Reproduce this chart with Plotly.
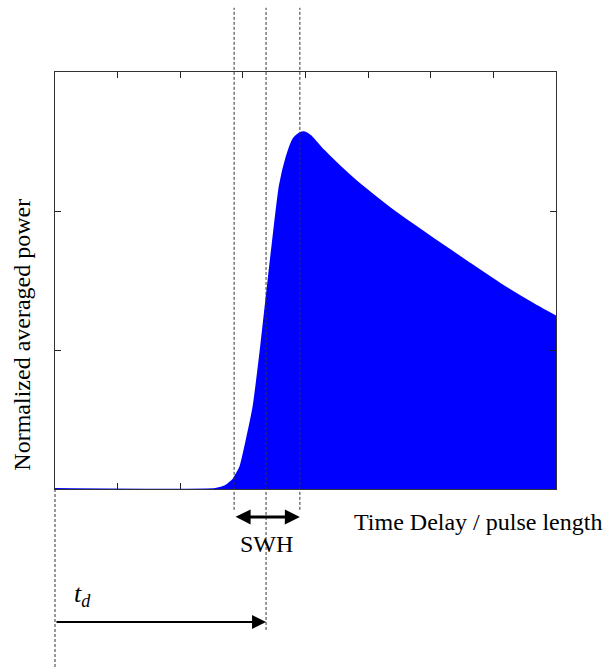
import plotly.graph_objects as go

# Normalized averaged return power versus time delay (in pulse lengths)
delay = [0.0, 2.56, 2.72, 2.85, 2.96, 3.06, 3.17, 3.28, 3.38, 3.46, 3.59,
         3.70, 3.81, 3.91, 3.99, 4.08, 4.18, 4.29, 4.55, 4.82, 5.08, 5.35,
         5.72, 6.04, 6.58, 7.11, 7.64, 8.0]
power = [0.0, 0.0, 0.02, 0.07, 0.16, 0.35, 0.59, 0.98, 1.38, 1.70, 2.18,
         2.39, 2.52, 2.56, 2.565, 2.54, 2.49, 2.435, 2.32, 2.21, 2.115, 2.02,
         1.90, 1.80, 1.635, 1.475, 1.33, 1.24]

# Leading edge: start, mid-point (tracking point) and end
edge_marks = [2.86, 3.37, 3.91]

x_ticks = [1, 2, 3, 4, 5, 6, 7]
y_ticks = [1, 2]

SERIF = "Liberation Serif, Times New Roman, serif"
DASH = dict(color="#333333", width=1, dash="3px,2px")

fig = go.Figure()
fig.add_trace(go.Scatter(
    x=delay, y=power, mode="lines", fill="tozeroy",
    fillcolor="#0000FF", line=dict(color="#0000FF", width=2, shape="spline", smoothing=0.5),
    hoverinfo="skip", showlegend=False,
))

shapes = []
# vertical guide lines through the leading edge
for i, xm in enumerate(edge_marks):
    y_bottom = -0.338 if i == 1 else -0.05
    shapes.append(dict(type="line", xref="x", yref="paper", x0=xm, x1=xm,
                       y0=y_bottom, y1=1.154, line=DASH, layer="above"))
# origin guide below the axis
shapes.append(dict(type="line", xref="paper", yref="paper", x0=0, x1=0,
                   y0=0, y1=-0.43, line=DASH, layer="above"))

annotations = [
    # SWH double arrow
    dict(x=edge_marks[2], y=-0.067, xref="x", yref="paper",
         ax=edge_marks[0], ay=-0.067, axref="x", ayref="pixel",
         text="", showarrow=True, arrowhead=2, startarrowhead=2,
         arrowside="end+start", arrowwidth=3, arrowsize=1, startarrowsize=1,
         arrowcolor="black"),
    dict(x=(edge_marks[0] + edge_marks[2]) / 2, y=-0.133, xref="x", yref="paper",
         text="SWH", showarrow=False, font=dict(family=SERIF, size=24, color="black"),
         xanchor="center", yanchor="middle"),
    # t_d arrow from origin to tracking point
    dict(x=edge_marks[1], y=-0.319, xref="x", yref="paper",
         ax=0, ay=0, axref="x", ayref="pixel",
         text="", showarrow=True, arrowhead=2, arrowwidth=2, arrowsize=1.4,
         arrowcolor="black"),
    dict(x=0.034, y=-0.255, xref="paper", yref="paper",
         text="<i>t<sub>d</sub></i>", showarrow=False,
         font=dict(family=SERIF, size=26, color="black"),
         xanchor="left", yanchor="middle"),
    # axis titles
    dict(x=0.593, y=-0.08, xref="paper", yref="paper",
         text="Time Delay / pulse length", showarrow=False,
         font=dict(family=SERIF, size=24, color="black"),
         xanchor="left", yanchor="middle"),
    dict(x=-0.066, y=0.37, xref="paper", yref="paper",
         text="Normalized averaged power", showarrow=False, textangle=-90,
         font=dict(family=SERIF, size=24, color="black"),
         xanchor="center", yanchor="middle"),
]

fig.update_layout(
    width=610, height=668,
    margin=dict(l=55, r=54, t=72, b=179),
    paper_bgcolor="white", plot_bgcolor="white",
    shapes=shapes, annotations=annotations,
    xaxis=dict(range=[0, 8], tickvals=x_ticks, showticklabels=False,
               ticks="inside", ticklen=6, tickcolor="#222222",
               showline=True, linecolor="#333333", linewidth=1, mirror="ticks",
               showgrid=False, zeroline=False, fixedrange=True,
               layer="below traces"),
    yaxis=dict(range=[0, 3], tickvals=y_ticks, showticklabels=False,
               ticks="inside", ticklen=6, tickcolor="#222222",
               showline=True, linecolor="#333333", linewidth=1, mirror="ticks",
               showgrid=False, zeroline=False, fixedrange=True),
)

fig.write_html("out.html")
